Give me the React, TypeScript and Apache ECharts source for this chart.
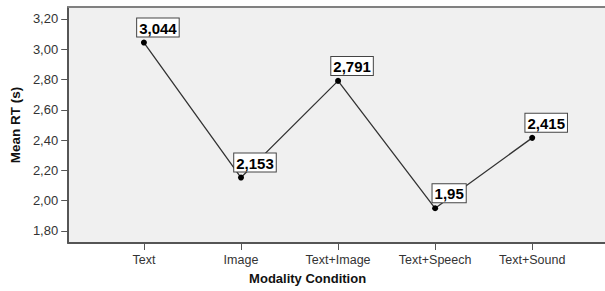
import React, { useEffect, useRef } from "react";
import * as echarts from "echarts";

const categories = ["Text", "Image", "Text+Image", "Text+Speech", "Text+Sound"];
const meanRT = [3.044, 2.153, 2.791, 1.95, 2.415];
const yTicks = [1.8, 2.0, 2.2, 2.4, 2.6, 2.8, 3.0, 3.2];
const xTicks = [0, 1, 2, 3, 4];

const FONT = "'Liberation Sans', Arial, sans-serif";

export default function App() {
  const ref = useRef<HTMLDivElement>(null);
  useEffect(() => {
    if (!ref.current) return;
    const chart = echarts.init(ref.current, undefined, { renderer: "svg" });
    chart.setOption({
      animation: false,
      textStyle: { fontFamily: FONT },
      grid: {
        left: 66,
        top: 7,
        right: 0,
        bottom: 48,
        show: true,
        backgroundColor: "#f0f0f0",
        borderColor: "#f0f0f0",
        borderWidth: 0,
      },
      xAxis: [
        {
          type: "value",
          min: -0.78,
          max: 4.75,
          name: "Modality Condition",
          nameLocation: "middle",
          nameGap: 29,
          nameTextStyle: { fontWeight: "bold", fontSize: 13, color: "#111", fontFamily: FONT, padding: [0, 58, 0, 0] },
          axisLine: { show: true, onZero: false, lineStyle: { color: "#555", width: 2 } },
          axisTick: { show: true, length: 7, lineStyle: { color: "#555" }, customValues: xTicks },
          axisLabel: {
            customValues: xTicks,
            formatter: (v: number) => categories[Math.round(v)] ?? "",
            color: "#333",
            fontSize: 12.5,
            margin: 10,
            fontFamily: FONT,
          },
          splitLine: { show: false },
        },
        {
          type: "value",
          position: "top",
          min: -0.78,
          max: 4.75,
          axisLine: { show: true, onZero: false, lineStyle: { color: "#808080", width: 2 } },
          axisTick: { show: false },
          axisLabel: { show: false },
          splitLine: { show: false },
        },
      ],
      yAxis: {
        type: "value",
        min: 1.7207,
        max: 3.279,
        name: "Mean RT (s)",
        nameLocation: "middle",
        nameGap: 39,
        nameTextStyle: { fontWeight: "bold", fontSize: 13.5, color: "#111", fontFamily: FONT },
        axisLine: { show: true, onZero: false, lineStyle: { color: "#555", width: 2 } },
        axisTick: { show: true, length: 7, lineStyle: { color: "#555" }, customValues: yTicks },
        axisLabel: {
          customValues: yTicks,
          formatter: (v: number) => v.toFixed(2).replace(".", ","),
          color: "#333",
          fontSize: 13,
          margin: 10,
          fontFamily: FONT,
        },
        splitLine: { show: false },
      },
      series: [
        {
          type: "line",
          xAxisIndex: 0,
          data: meanRT.map((v, i) => [i, v]),
          lineStyle: { color: "#333", width: 1.3 },
          itemStyle: { color: "#000" },
          symbol: "circle",
          symbolSize: 6,
          label: {
            show: true,
            position: "top",
            distance: 3,
            offset: [14, 0],
            formatter: (p: any) => String(p.value[1]).replace(".", ","),
            fontSize: 15,
            fontWeight: "bold",
            color: "#000",
            fontFamily: FONT,
            backgroundColor: "#fff",
            borderColor: "#444",
            borderWidth: 1,
            padding: [2, 2, 1, 2],
          },
        },
      ],
    });
    return () => chart.dispose();
  }, []);
  return <div ref={ref} style={{ width: 605, height: 291, position: "absolute", left: 0, top: 0 }} />;
}
